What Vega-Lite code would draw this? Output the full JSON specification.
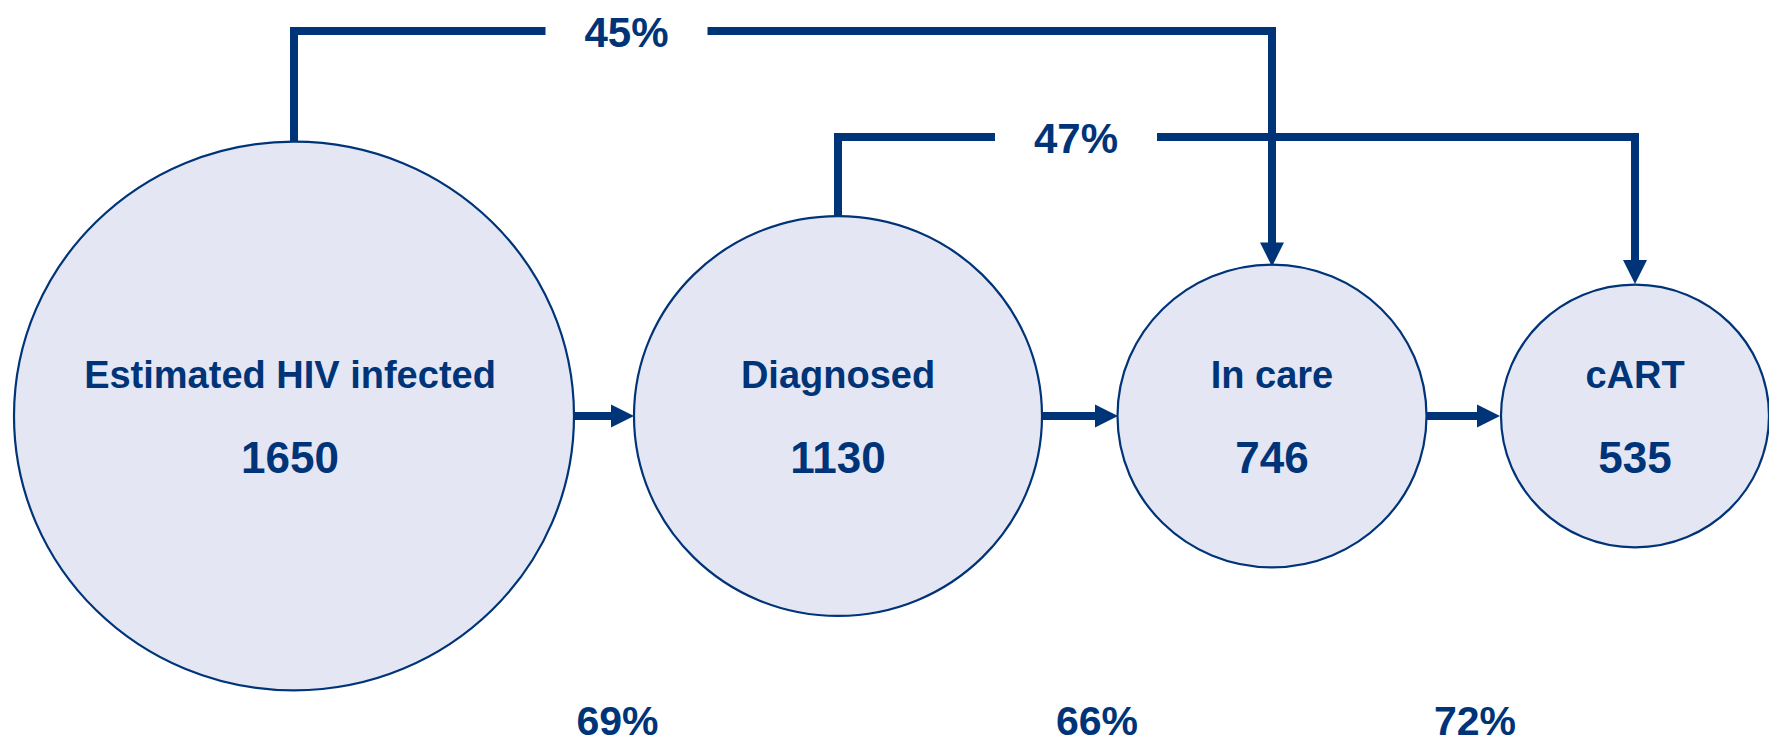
{
  "$schema": "https://vega.github.io/schema/vega-lite/v6.json",
  "width": 1769,
  "height": 745,
  "autosize": {"type": "none"},
  "padding": 0,
  "background": "#ffffff",
  "config": {
    "view": {"stroke": null},
    "text": {"font": "Liberation Sans", "fontWeight": "bold", "color": "#003478", "align": "center", "baseline": "alphabetic"}
  },
  "datasets": {
    "stages": [
      {"stage": "Estimated HIV infected", "step": 1, "count": 1650},
      {"stage": "Diagnosed", "step": 2, "count": 1130},
      {"stage": "In care", "step": 3, "count": 746},
      {"stage": "cART", "step": 4, "count": 535}
    ],
    "links": [
      {"from": 1, "to": 2, "pct": 0.69, "level": 0},
      {"from": 2, "to": 3, "pct": 0.66, "level": 0},
      {"from": 3, "to": 4, "pct": 0.72, "level": 0},
      {"from": 1, "to": 3, "pct": 0.45, "level": 2},
      {"from": 2, "to": 4, "pct": 0.47, "level": 1}
    ]
  },
  "resolve": {"scale": {"x": "independent", "y": "independent", "size": "independent"}},
  "layer": [
    {
      "data": {"name": "links"},
      "transform": [
        {"joinaggregate": [{"op": "min", "field": "level", "as": "base"}]},
        {"filter": "datum.level > 0"}
      ],
      "mark": {"type": "rule", "strokeWidth": 8, "strokeCap": "square", "color": "#003478"},
      "encoding": {
        "x": {"field": "from", "type": "quantitative", "axis": null, "scale": {"type": "linear", "domain": [1, 2, 3, 4], "range": [294, 838, 1272, 1635], "nice": false, "zero": false}},
        "y": {"field": "level", "type": "quantitative", "axis": null, "scale": {"type": "linear", "domain": [0, 1, 2], "range": [416, 137, 31], "nice": false, "zero": false}},
        "y2": {"field": "base"}
      }
    },
    {
      "data": {"name": "links"},
      "transform": [
        {"joinaggregate": [{"op": "min", "field": "level", "as": "base"}]},
        {"filter": "datum.level > 0"}
      ],
      "mark": {"type": "rule", "strokeWidth": 8, "strokeCap": "square", "color": "#003478"},
      "encoding": {
        "x": {"field": "to", "type": "quantitative", "axis": null, "scale": {"type": "linear", "domain": [1, 2, 3, 4], "range": [294, 838, 1272, 1635], "nice": false, "zero": false}},
        "y": {"field": "level", "type": "quantitative", "axis": null, "scale": {"type": "linear", "domain": [0, 1, 2], "range": [416, 137, 31], "nice": false, "zero": false}},
        "y2": {"field": "base"}
      }
    },
    {
      "data": {"name": "links"},
      "transform": [{"filter": "datum.level > 0"}],
      "mark": {"type": "rule", "strokeWidth": 8, "strokeCap": "square", "color": "#003478"},
      "encoding": {
        "x": {"field": "from", "type": "quantitative", "axis": null, "scale": {"type": "linear", "domain": [1, 2, 3, 4], "range": [294, 838, 1272, 1635], "nice": false, "zero": false}},
        "x2": {"field": "to"},
        "y": {"field": "level", "type": "quantitative", "axis": null, "scale": {"type": "linear", "domain": [0, 1, 2], "range": [416, 137, 31], "nice": false, "zero": false}}
      }
    },
    {
      "data": {"name": "links"},
      "transform": [{"filter": "datum.level == 0"}],
      "mark": {"type": "rule", "strokeWidth": 8, "strokeCap": "butt", "color": "#003478"},
      "encoding": {
        "x": {"field": "from", "type": "quantitative", "axis": null, "scale": {"type": "linear", "domain": [1, 2, 3, 4], "range": [294, 838, 1272, 1635], "nice": false, "zero": false}},
        "x2": {"field": "to"},
        "y": {"field": "level", "type": "quantitative", "axis": null, "scale": {"type": "linear", "domain": [0, 1, 2], "range": [416, 137, 31], "nice": false, "zero": false}}
      }
    },
    {
      "data": {"name": "links"},
      "transform": [{"filter": "datum.level > 0"}],
      "mark": {"type": "point", "shape": "M -1 -0.12 L 1 -0.12 L 1 0.12 L -1 0.12 Z", "size": 26244, "filled": true, "fill": "#ffffff", "strokeWidth": 0, "opacity": 1},
      "encoding": {
        "x": {"field": "from", "type": "quantitative", "axis": null, "scale": {"type": "linear", "domain": [1, 2], "range": [626.5, 1076], "nice": false, "zero": false}},
        "y": {"field": "level", "type": "quantitative", "axis": null, "scale": {"type": "linear", "domain": [0, 1, 2], "range": [416, 137, 31], "nice": false, "zero": false}}
      }
    },
    {
      "data": {"name": "links"},
      "transform": [{"filter": "datum.level > 0"}],
      "mark": {"type": "text", "fontSize": 42, "dy": 16},
      "encoding": {
        "x": {"field": "from", "type": "quantitative", "axis": null, "scale": {"type": "linear", "domain": [1, 2], "range": [626.5, 1076], "nice": false, "zero": false}},
        "y": {"field": "level", "type": "quantitative", "axis": null, "scale": {"type": "linear", "domain": [0, 1, 2], "range": [416, 137, 31], "nice": false, "zero": false}},
        "text": {"field": "pct", "type": "quantitative", "format": ".0%"}
      }
    },
    {
      "data": {"name": "links"},
      "transform": [{"filter": "datum.level > 0"}],
      "mark": {"type": "point", "shape": "M -0.4 0 L 0.4 0 L 0.4 1.05 L -0.4 1.05 Z", "size": 576, "filled": true, "fill": "#ffffff", "strokeWidth": 0, "opacity": 1},
      "encoding": {
        "x": {"field": "to", "type": "quantitative", "axis": null, "scale": {"type": "linear", "domain": [1, 2, 3, 4], "range": [294, 838, 1272, 1635], "nice": false, "zero": false}},
        "y": {"field": "to", "type": "quantitative", "axis": null, "scale": {"type": "linear", "domain": [3, 4], "range": [254.5, 272], "nice": false, "zero": false}}
      }
    },
    {
      "data": {"name": "links"},
      "transform": [{"filter": "datum.level == 0"}],
      "mark": {"type": "point", "shape": "M 0 -0.4 L 1.05 -0.4 L 1.05 0.4 L 0 0.4 Z", "size": 529, "filled": true, "fill": "#ffffff", "strokeWidth": 0, "opacity": 1},
      "encoding": {
        "x": {"field": "to", "type": "quantitative", "axis": null, "scale": {"type": "linear", "domain": [2, 3, 4], "range": [622.5, 1106.5, 1488.5], "nice": false, "zero": false}},
        "y": {"field": "level", "type": "quantitative", "axis": null, "scale": {"type": "linear", "domain": [0, 1, 2], "range": [416, 137, 31], "nice": false, "zero": false}}
      }
    },
    {
      "data": {"name": "stages"},
      "mark": {
        "type": "point",
        "shape": "M 1 0 C 1 0.5413 0.5523 0.98 0 0.98 C -0.5523 0.98 -1 0.5413 -1 0 C -1 -0.5413 -0.5523 -0.98 0 -0.98 C 0.5523 -0.98 1 -0.5413 1 0 Z",
        "filled": true,
        "fill": "#E4E7F3",
        "stroke": "#003478",
        "strokeWidth": 2.2,
        "opacity": 1
      },
      "encoding": {
        "x": {"field": "step", "type": "quantitative", "axis": null, "scale": {"type": "linear", "domain": [1, 2, 3, 4], "range": [294, 838, 1272, 1635], "nice": false, "zero": false}},
        "y": {"datum": 0, "type": "quantitative", "axis": null, "scale": {"type": "linear", "domain": [0, 1, 2], "range": [416, 137, 31], "nice": false, "zero": false}},
        "size": {"field": "count", "type": "quantitative", "legend": null, "scale": {"type": "linear", "domain": [535, 746, 1130, 1650], "range": [71824, 95481, 166464, 313600], "nice": false, "zero": false}}
      }
    },
    {
      "data": {"name": "links"},
      "transform": [{"filter": "datum.level > 0"}],
      "mark": {"type": "point", "shape": "M -1 -1 L 1 -1 L 0 1 Z", "size": 576, "filled": true, "fill": "#003478", "strokeWidth": 0, "opacity": 1},
      "encoding": {
        "x": {"field": "to", "type": "quantitative", "axis": null, "scale": {"type": "linear", "domain": [1, 2, 3, 4], "range": [294, 838, 1272, 1635], "nice": false, "zero": false}},
        "y": {"field": "to", "type": "quantitative", "axis": null, "scale": {"type": "linear", "domain": [3, 4], "range": [254.5, 272], "nice": false, "zero": false}}
      }
    },
    {
      "data": {"name": "links"},
      "transform": [{"filter": "datum.level == 0"}],
      "mark": {"type": "point", "shape": "M -1 -1 L 1 0 L -1 1 Z", "size": 529, "filled": true, "fill": "#003478", "strokeWidth": 0, "opacity": 1},
      "encoding": {
        "x": {"field": "to", "type": "quantitative", "axis": null, "scale": {"type": "linear", "domain": [2, 3, 4], "range": [622.5, 1106.5, 1488.5], "nice": false, "zero": false}},
        "y": {"field": "level", "type": "quantitative", "axis": null, "scale": {"type": "linear", "domain": [0, 1, 2], "range": [416, 137, 31], "nice": false, "zero": false}}
      }
    },
    {
      "data": {"name": "stages"},
      "mark": {"type": "text", "fontSize": 38, "dy": -28},
      "encoding": {
        "x": {"field": "step", "type": "quantitative", "axis": null, "scale": {"type": "linear", "domain": [1, 2, 3, 4], "range": [290, 838, 1272, 1635], "nice": false, "zero": false}},
        "y": {"datum": 0, "type": "quantitative", "axis": null, "scale": {"type": "linear", "domain": [0, 1, 2], "range": [416, 137, 31], "nice": false, "zero": false}},
        "text": {"field": "stage", "type": "nominal"}
      }
    },
    {
      "data": {"name": "stages"},
      "mark": {"type": "text", "fontSize": 44, "dy": 57},
      "encoding": {
        "x": {"field": "step", "type": "quantitative", "axis": null, "scale": {"type": "linear", "domain": [1, 2, 3, 4], "range": [290, 838, 1272, 1635], "nice": false, "zero": false}},
        "y": {"datum": 0, "type": "quantitative", "axis": null, "scale": {"type": "linear", "domain": [0, 1, 2], "range": [416, 137, 31], "nice": false, "zero": false}},
        "text": {"field": "count", "type": "quantitative", "format": "d"}
      }
    },
    {
      "data": {"name": "links"},
      "transform": [{"filter": "datum.level == 0"}],
      "mark": {"type": "text", "fontSize": 41, "dy": 319},
      "encoding": {
        "x": {"field": "to", "type": "quantitative", "axis": null, "scale": {"type": "linear", "domain": [2, 3, 4], "range": [617.5, 1097, 1475], "nice": false, "zero": false}},
        "y": {"field": "level", "type": "quantitative", "axis": null, "scale": {"type": "linear", "domain": [0, 1, 2], "range": [416, 137, 31], "nice": false, "zero": false}},
        "text": {"field": "pct", "type": "quantitative", "format": ".0%"}
      }
    }
  ]
}
